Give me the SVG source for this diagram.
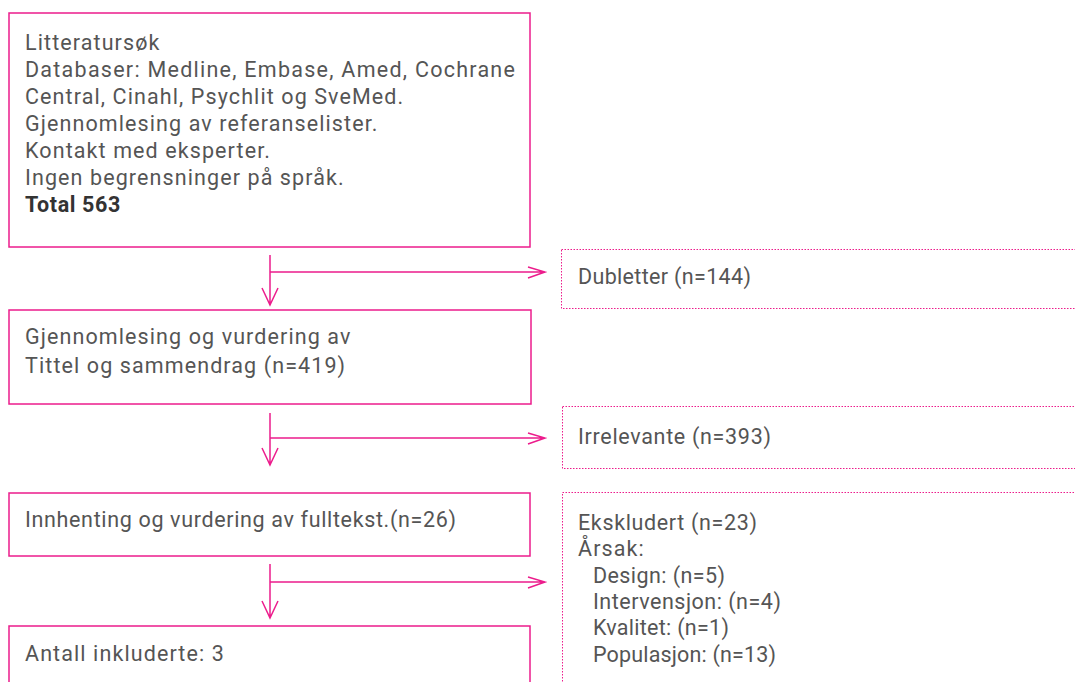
<svg xmlns="http://www.w3.org/2000/svg" width="1075" height="682" viewBox="0 0 1075 682">
<style>
.box{fill:#fff;stroke:#ec1c8c;stroke-width:1.5}
.dbox{fill:#fff;stroke:#ec1c8c;stroke-width:1;stroke-dasharray:1.5 1.5}
.t{font-family:Roboto,"Liberation Sans",sans-serif;font-size:21.5px;letter-spacing:1.1px;fill:#555}
.b{font-weight:bold;fill:#333;letter-spacing:0.6px}
.c{fill:none;stroke:#ec1c8c;stroke-width:1.5}
</style>
<rect width="1075" height="682" fill="#fff"/>
<g id="n1">
<rect class="box" x="9" y="13" width="521" height="234"/>
<text class="t"><tspan x="25" y="50">Litteratursøk</tspan><tspan x="25" y="77" textLength="491" lengthAdjust="spacing">Databaser: Medline, Embase, Amed, Cochrane</tspan><tspan x="25" y="104">Central, Cinahl, Psychlit og SveMed.</tspan><tspan x="25" y="131">Gjennomlesing av referanselister.</tspan><tspan x="25" y="158">Kontakt med eksperter.</tspan><tspan x="25" y="185">Ingen begrensninger på språk.</tspan><tspan x="25" y="212" class="b">Total 563</tspan></text>
</g>
<g id="n2">
<rect class="dbox" x="561.5" y="249.5" width="530" height="59"/>
<text class="t" x="578" y="284" textLength="174" lengthAdjust="spacing">Dubletter (n=144)</text>
</g>
<g id="n3">
<rect class="box" x="9" y="310" width="522" height="94"/>
<text class="t"><tspan x="25" y="344">Gjennomlesing og vurdering av</tspan><tspan x="25" y="373">Tittel og sammendrag (n=419)</tspan></text>
</g>
<g id="n4">
<rect class="dbox" x="562.5" y="406.5" width="530" height="62"/>
<text class="t" x="578" y="444" textLength="194" lengthAdjust="spacing">Irrelevante (n=393)</text>
</g>
<g id="n5">
<rect class="box" x="9" y="493" width="521" height="63"/>
<text class="t" x="25" y="527" textLength="432" lengthAdjust="spacing">Innhenting og vurdering av fulltekst.(n=26)</text>
</g>
<g id="n6">
<rect class="dbox" x="562.5" y="492.5" width="530" height="220"/>
<text class="t"><tspan x="578" y="530" textLength="180" lengthAdjust="spacing">Ekskludert (n=23)</tspan><tspan x="578" y="556">Årsak:</tspan><tspan x="593" y="583" textLength="133" lengthAdjust="spacing">Design: (n=5)</tspan><tspan x="593" y="609" textLength="189" lengthAdjust="spacing">Intervensjon: (n=4)</tspan><tspan x="593" y="635" textLength="137" lengthAdjust="spacing">Kvalitet: (n=1)</tspan><tspan x="593" y="662" textLength="184" lengthAdjust="spacing">Populasjon: (n=13)</tspan></text>
</g>
<g id="n7">
<rect class="box" x="9" y="626" width="521" height="80"/>
<text class="t" x="25" y="661">Antall inkluderte: 3</text>
</g>
<g id="connectors">
<path class="c" d="M270 255V305M262 288L270 305L278 288M270 272H545M528 267L545 272L528 278"/>
<path class="c" d="M270 413V465M262 448L270 465L278 448M270 438H545M528 433L545 438L528 444"/>
<path class="c" d="M270 564V618M262 601L270 618L278 601M270 582H545M528 577L545 582L528 588"/>
</g>
</svg>
